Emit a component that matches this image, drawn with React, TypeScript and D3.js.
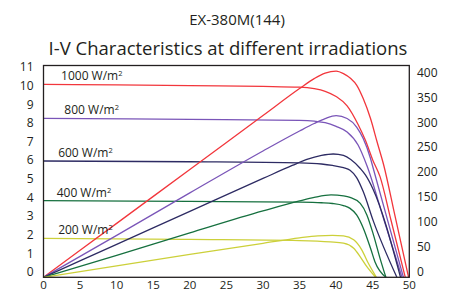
import { useEffect, useRef } from 'react';
import * as d3 from 'd3';

// I-V curves (voltage V, current A)
const iv1000 = [[0, 10.35], [10, 10.32], [20, 10.28], [30, 10.24], [35, 10.2], [37, 10.12], [38.5, 9.98], [40, 9.7], [41.5, 9.2], [43, 8.2], [44, 7.35], [45, 6.3], [46, 5.4], [47.5, 3.06], [49.45, 0]];
const iv800 = [[0, 8.53], [20, 8.47], [35, 8.42], [37, 8.38], [38.5, 8.3], [40, 8.1], [41.5, 7.8], [43, 7.1], [44.2, 6.0], [46.5, 3.13], [49.0, 0]];
const iv600 = [[0, 6.24], [20, 6.2], [35, 6.14], [38, 6.08], [39.5, 6.0], [41, 5.88], [41.9, 5.74], [42.8, 5.35], [43.7, 4.6], [45.1, 3.0], [48.3, 0]];
const iv400 = [[0, 4.11], [20, 4.07], [35, 4.03], [38, 4.0], [39.5, 3.96], [41, 3.85], [41.9, 3.7], [42.8, 3.35], [43.7, 2.65], [44.7, 1.56], [45.3, 0.84], [46.8, 0]];
const iv200 = [[0, 2.09], [20, 2.03], [35, 1.97], [39.2, 1.9], [41, 1.83], [42.4, 1.56], [43.3, 1.1], [44.2, 0.57], [45.4, 0]];

// P-V curves (voltage V, power W)
const pv1000 = [[0, 0], [10, 108], [20, 216], [30, 324], [35, 378], [37, 398], [38.5, 409], [40, 413], [41, 408], [42, 398], [42.8, 385], [43.7, 358], [44.7, 318], [45.6, 271], [46.5, 225], [48, 126], [49.9, 0]];
const pv800 = [[0, 0], [10, 84], [20, 169], [30, 253], [35, 293], [37, 308], [38.5, 318], [40, 324], [41.5, 318], [42.8, 301], [43.7, 278], [44.7, 238], [45, 222], [47, 116], [49.2, 0]];
const pv600 = [[0, 0], [10, 66], [20, 132], [30, 198], [34, 224], [36, 236], [38, 244], [39.6, 247], [41, 244], [42, 236], [43.3, 218], [44, 205], [45, 178], [48.8, 0]];
const pv400 = [[0, 0], [10, 44], [20, 89], [30, 133], [35, 153], [37, 160], [39.3, 165], [41, 163], [41.9, 160], [43.3, 148], [44.2, 125], [45.1, 85], [46, 38], [46.8, 0]];
const pv200 = [[0, 0], [10, 23], [20, 46], [30, 68], [35, 79], [37.5, 83], [39.5, 84], [41, 83], [42.4, 75], [43.5, 55], [44.4, 28], [45.5, 0]];

const labels = ['1000 W/m', '800 W/m', '600 W/m', '400 W/m', '200 W/m'];
const labelV = [2.4, 2.85, 2.0, 1.8, 2.0];
const colors = ['#f2363c', '#7a55b8', '#2d2b63', '#16703f', '#ccd03a'];

const xTicks = [0, 5, 10, 15, 20, 25, 30, 35, 40, 45, 50];
const iTicks = [0, 1, 2, 3, 4, 5, 6, 7, 8, 9, 10, 11];
const pTicks = [0, 50, 100, 150, 200, 250, 300, 350, 400];

export default function App() {
  const ref = useRef<SVGSVGElement>(null);

  useEffect(() => {
    const svg = d3.select(ref.current);
    svg.selectAll('*').remove();

    const left = 43.5, right = 409.3, top = 65.5, bottom = 277.3;
    const font = '"Open Sans", sans-serif';

    const x = d3.scaleLinear().domain([0, 50]).range([left, right]);
    const yI = d3.scaleLinear().domain([0, 11]).range([bottom, 72.3]);
    const yP = d3.scaleLinear().domain([0, 400]).range([bottom, 77.6]);

    // titles
    svg.append('text')
      .attr('x', 237).attr('y', 25)
      .attr('text-anchor', 'middle')
      .attr('font-family', font).attr('font-size', 15)
      .attr('fill', '#231f20')
      .text('EX-380M(144)');
    svg.append('text')
      .attr('x', 228).attr('y', 55)
      .attr('text-anchor', 'middle')
      .attr('font-family', font).attr('font-size', 18.5)
      .attr('fill', '#231f20')
      .text('I-V Characteristics at different irradiations');

    const ivs = [iv1000, iv800, iv600, iv400, iv200];
    const pvs = [pv1000, pv800, pv600, pv400, pv200];

    const ivLine = d3.line<number[]>().x(d => x(d[0])).y(d => yI(d[1])).curve(d3.curveMonotoneX);
    const pvLine = d3.line<number[]>().x(d => x(d[0])).y(d => yP(d[1])).curve(d3.curveMonotoneX);

    const g = svg.append('g').attr('fill', 'none').attr('stroke-width', 1.3);
    ivs.forEach((d, i) => {
      g.append('path').attr('d', ivLine(d)).attr('stroke', colors[i]);
    });
    pvs.forEach((d, i) => {
      g.append('path').attr('d', pvLine(d)).attr('stroke', colors[i]);
    });

    // irradiance labels
    labels.forEach((t, i) => {
      const txt = svg.append('text')
        .attr('x', x(labelV[i]))
        .attr('y', yI(ivs[i][0][1]) - 4)
        .attr('font-family', font).attr('font-size', 12)
        .attr('fill', '#231f20')
        .text(t);
      txt.append('tspan').attr('dy', -4).attr('font-size', 7.5).text('2');
    });

    // frame
    svg.append('rect')
      .attr('x', left).attr('y', top)
      .attr('width', right - left).attr('height', bottom - top)
      .attr('fill', 'none').attr('stroke', '#231f20').attr('stroke-width', 1.3);

    // axes labels
    svg.append('g').selectAll('text').data(iTicks).join('text')
      .attr('x', 33.5).attr('y', d => yI(d) - 1)
      .attr('text-anchor', 'end')
      .attr('font-family', font).attr('font-size', 12).attr('fill', '#231f20')
      .text(d => d);
    svg.append('g').selectAll('text').data(pTicks).join('text')
      .attr('x', 417).attr('y', d => yP(d) - 1)
      .attr('font-family', font).attr('font-size', 12).attr('fill', '#231f20')
      .text(d => d);
    svg.append('g').selectAll('text').data(xTicks).join('text')
      .attr('x', d => x(d)).attr('y', 288.5)
      .attr('text-anchor', 'middle')
      .attr('font-family', font).attr('font-size', 11.5).attr('fill', '#231f20')
      .text(d => d);
  }, []);

  return (
    <svg ref={ref} width={454} height={292}
      style={{ position: 'absolute', left: 0, top: 0, background: '#fff' }} />
  );
}
